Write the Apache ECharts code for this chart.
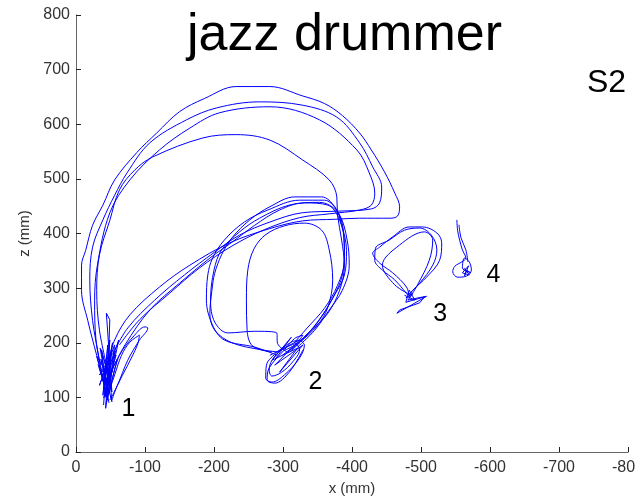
<!DOCTYPE html>
<html><head><meta charset="utf-8">
<script src="https://cdn.jsdelivr.net/npm/echarts@6/dist/echarts.min.js"></script>
<style>html,body{margin:0;padding:0;background:#fff}#c{width:635px;height:502px}</style>
</head><body><div id="c"></div>
<script>
// Axis ranges (mm)
const xRange = [-800, 0];
const zRange = [0, 800];
const tickStep = 100;

// Trajectory strokes, [x mm, z mm]
const arcOuter = [[-42,122],[-30,177],[-17,241],[-8,296],[-8,342],[-14,369],[-24,415],[-39,452],[-56,498],[-88,548],[-117,584],[-150,623],[-186,647],[-232,669],[-281,669],[-328,652],[-360,638],[-386,616],[-411,584],[-428,553],[-447,513],[-462,474],[-469,449],[-466,432],[-455,428],[-411,428],[-375,426],[-328,423],[-281,409],[-223,383],[-165,342],[-121,302],[-78,251],[-56,205],[-46,159]];
const arcMid1 = [[-43,104],[-34,168],[-24,241],[-20,315],[-24,375],[-39,425],[-56,470],[-74,511],[-107,566],[-160,608],[-204,630],[-266,641],[-328,635],[-378,613],[-411,566],[-430,522],[-443,485],[-440,456],[-428,445],[-382,441],[-328,438],[-281,421],[-237,397],[-201,366],[-157,324],[-114,278],[-75,227],[-52,177]];
const arcMid2 = [[-40,131],[-29,205],[-27,278],[-31,342],[-49,438],[-78,498],[-121,553],[-165,593],[-208,621],[-281,632],[-353,608],[-407,553],[-425,511],[-433,474],[-428,452],[-411,443],[-367,436],[-324,429],[-273,407],[-226,377],[-179,337],[-136,291],[-92,242],[-63,196]];
const arcInner = [[-46,150],[-34,223],[-30,296],[-34,361],[-49,424],[-63,480],[-85,516],[-111,540],[-184,575],[-232,581],[-281,571],[-328,535],[-367,498],[-378,467],[-379,434],[-385,388],[-389,342],[-382,296],[-365,254],[-341,223],[-317,195],[-299,177]];
const diag1 = [[-52,150],[-71,196],[-107,260],[-150,309],[-194,355],[-226,384],[-259,415],[-295,443],[-331,456],[-365,452],[-382,425],[-389,379],[-386,324],[-372,282],[-350,238],[-324,201],[-305,181]];

const loop2a = [[-295,183],[-269,187],[-226,200],[-201,223],[-194,254],[-197,296],[-201,327],[-211,361],[-226,392],[-252,425],[-281,449],[-317,467],[-356,467],[-375,449],[-385,416],[-392,369],[-389,324],[-375,288],[-353,242],[-331,209],[-310,183]];
const loop2b = [[-292,177],[-259,192],[-215,205],[-198,232],[-189,278],[-191,324],[-198,355],[-215,388],[-244,421],[-278,443],[-324,461],[-360,461],[-382,434],[-393,388],[-396,342],[-386,296],[-367,260],[-346,223],[-321,192]];
const loop2c = [[-284,183],[-256,194],[-248,223],[-247,278],[-249,333],[-258,372],[-275,398],[-302,414],[-331,419],[-356,406],[-367,370],[-372,315],[-365,265],[-350,232],[-324,201],[-302,186]];
const loop2d = [[-306,183],[-292,199],[-291,218],[-259,221],[-220,218],[-201,238],[-195,278],[-200,333],[-211,370],[-237,403],[-266,428],[-309,452],[-353,457],[-379,439],[-388,397],[-389,351],[-379,305],[-360,263],[-335,227],[-317,201]];

const c2a = [[-324,205],[-331,196],[-324,172],[-302,141],[-284,128],[-275,135],[-276,159],[-292,183],[-312,201],[-324,205]];
const c2b = [[-319,199],[-324,187],[-314,165],[-298,146],[-284,139],[-280,150],[-284,168],[-298,187],[-319,199]];
const c2c = [[-324,205],[-329,214],[-317,208],[-302,187],[-280,154],[-277,132],[-288,126],[-309,146],[-329,187]];
const c2z = [[-281,177],[-324,205],[-288,159],[-329,196],[-295,146],[-321,190],[-284,168],[-312,210],[-290,172]];

const c1z = [[-40,86],[-46,196],[-39,104],[-49,205],[-43,80],[-52,187],[-34,122],[-56,196],[-46,95],[-37,187],[-52,110],[-44,254],[-49,242],[-47,168],[-34,141],[-58,177],[-40,99]];
const c1y = [[-38,130],[-50,175],[-42,100],[-55,160],[-45,120],[-36,170],[-52,92],[-48,150],[-40,115],[-57,185],[-44,88]];
const c1x = [[-32,160],[-44,110],[-53,200],[-41,125],[-60,170],[-47,105],[-35,190],[-50,135],[-62,205],[-45,145],[-30,175],[-48,90]];
const c1w1 = [[-49,95],[-60,122],[-75,168],[-92,205],[-104,227],[-100,229],[-85,214],[-63,177],[-52,131]];
const c1w2 = [[-46,104],[-56,141],[-66,177],[-78,201],[-92,214],[-89,196],[-75,159],[-60,122],[-52,95]];

const loop3a = [[-483,284],[-479,302],[-459,328],[-440,346],[-430,364],[-440,375],[-459,394],[-483,412],[-502,412],[-523,401],[-530,383],[-527,351],[-508,320],[-488,296],[-483,284]];
const loop3b = [[-481,287],[-462,315],[-444,333],[-433,351],[-434,373],[-454,388],[-476,406],[-498,410],[-515,397],[-523,370],[-517,342],[-498,309],[-481,287]];
const loop3c = [[-486,287],[-462,306],[-444,342],[-469,379],[-505,403],[-517,388],[-512,351],[-495,306],[-486,287]];
const c3z = [[-476,287],[-491,278],[-483,296],[-478,274],[-505,284],[-498,273],[-469,260],[-465,254],[-486,269],[-508,285],[-495,282],[-481,278],[-488,290],[-478,282]];

const loop4a = [[-552,425],[-553,406],[-556,388],[-560,370],[-565,355],[-559,348],[-549,340],[-546,330],[-553,320],[-566,322],[-573,333],[-570,348],[-563,355],[-560,337],[-567,330]];
const loop4b = [[-555,416],[-558,392],[-565,370],[-568,348]];
const c4z = [[-563,337],[-570,324],[-560,328],[-569,341],[-563,322],[-566,333],[-572,328],[-561,334]];

// Target labels
const markerNames = ['1','2','3','4'];
const markerX = [-76,-347,-528,-605];
const markerZ = [78,128,252,324];

const smoothStrokes = [arcOuter, arcMid1, arcMid2, arcInner, diag1, loop2a, loop2b, loop2c, loop2d, c2a, c2b, c2c, c1w1, c1w2, loop3a, loop3b, loop3c, loop4a, loop4b];
const rawStrokes = [c2z, c1z, c1y, c1x, c3z, c4z];

const FONT = '"Liberation Sans", Arial, sans-serif';
const BLUE = '#0000ff';

function lineSeries(d, smooth) {
  return {type:'line', data:d, smooth: smooth ? 0.35 : false, showSymbol:false, symbol:'none', silent:true,
    lineStyle:{color:BLUE, width:1}, z:2};
}
const series = [];
smoothStrokes.forEach(d => series.push(lineSeries(d, true)));
rawStrokes.forEach(d => series.push(lineSeries(d, false)));
series.push({
  type:'scatter', symbol:'circle', symbolSize:0, itemStyle:{color:'#000', opacity:1}, silent:true, z:5,
  data: markerNames.map((n,i)=>({value:[markerX[i], markerZ[i]], name:n})),
  label:{show:true, position:[0,0], align:'center', verticalAlign:'middle', formatter:p=>p.name,
    fontSize:25, color:'#000', opacity:1, textBorderWidth:0, fontFamily:FONT}
});

const chart = echarts.init(document.getElementById('c'), null, {renderer:'canvas'});
chart.setOption({
  animation:false,
  backgroundColor:'#fff',
  title:[
    {text:'jazz drummer', left:187, top:10, padding:0, textStyle:{fontSize:52, fontWeight:'normal', color:'#000', fontFamily:FONT}},
    {text:'S2', left:587, top:67, padding:0, textStyle:{fontSize:32, fontWeight:'normal', color:'#000', fontFamily:FONT}}
  ],
  grid:{left:76, top:15, width:552, height:437, containLabel:false, outerBoundsMode:'none'},
  xAxis:{type:'value', min:xRange[0], max:xRange[1], interval:tickStep, inverse:true,
    name:'x (mm)', nameLocation:'middle', nameGap:28,
    nameTextStyle:{fontSize:15, color:'#333', fontFamily:FONT},
    axisLine:{show:true, onZero:false, lineStyle:{color:'#666', width:1}},
    axisTick:{show:true, inside:true, length:5, lineStyle:{color:'#222'}},
    axisLabel:{fontSize:16, color:'#333', margin:8, fontFamily:FONT, showMinLabel:true, showMaxLabel:true},
    splitLine:{show:false}},
  yAxis:{type:'value', min:zRange[0], max:zRange[1], interval:tickStep,
    name:'z (mm)', nameLocation:'middle', nameGap:40,
    nameTextStyle:{fontSize:15, color:'#333', fontFamily:FONT},
    axisLine:{show:true, onZero:false, lineStyle:{color:'#666', width:1}},
    axisTick:{show:true, inside:true, length:5, lineStyle:{color:'#222'}},
    axisLabel:{fontSize:16, color:'#333', margin:6, fontFamily:FONT, showMinLabel:true, showMaxLabel:true},
    splitLine:{show:false}},
  series: series
});
</script></body></html>
